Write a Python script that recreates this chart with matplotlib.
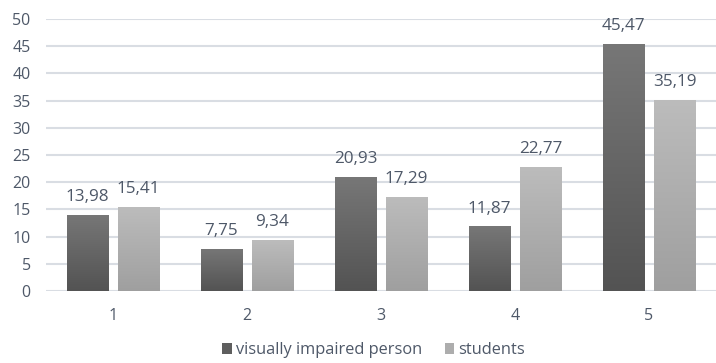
import numpy as np
import matplotlib
matplotlib.use('Agg')
import matplotlib.pyplot as plt
from matplotlib.colors import LinearSegmentedColormap

categories = ['1', '2', '3', '4', '5']
impaired = [13.98, 7.75, 20.93, 11.87, 45.47]
students = [15.41, 9.34, 17.29, 22.77, 35.19]
series_names = ['visually impaired person', 'students']

plt.rcParams['font.family'] = ['Open Sans', 'DejaVu Sans']
text_col = '#4e5868'

fig = plt.figure(figsize=(7.16, 3.63), dpi=100)
ax = fig.add_axes([46 / 716, 72 / 363, 670 / 716, 272 / 363])

x = np.arange(len(categories))
w = 0.31
off = 0.19

cm_dark = LinearSegmentedColormap.from_list('dk', ['#535353', '#777777'])
cm_light = LinearSegmentedColormap.from_list('lt', ['#9f9f9f', '#bcbcbc'])
grad = np.linspace(0, 1, 256).reshape(-1, 1)


def gradient_bars(xs, vals, cmap, solid, label):
    bars = ax.bar(xs, vals, w, color=solid, label=label, zorder=2)
    for b in bars:
        x0, y0 = b.get_x(), b.get_y()
        im = ax.imshow(grad, cmap=cmap, origin='lower', aspect='auto',
                       extent=[x0, x0 + b.get_width(), y0, y0 + b.get_height()],
                       zorder=3)
        im.set_clip_path(b)
    for xi, v in zip(xs, vals):
        ax.annotate(('%.2f' % v).replace('.', ','), (xi, v), xytext=(0, 10),
                    textcoords='offset points', ha='center', va='baseline',
                    fontsize=12.3, color=text_col, zorder=4)
    return bars


gradient_bars(x - off, impaired, cm_dark, '#5e5e5e', series_names[0])
gradient_bars(x + off, students, cm_light, '#adadad', series_names[1])

ax.set_xlim(-0.5, len(categories) - 0.5)
ax.set_ylim(0, 50)
ax.set_yticks(range(0, 51, 5))
ax.set_xticks(x)
ax.set_xticklabels(categories)
ax.yaxis.grid(True, color='#d9dde3', linewidth=1.5, zorder=0)
ax.set_axisbelow(True)
for s in ax.spines.values():
    s.set_visible(False)
ax.tick_params(length=0, labelsize=11.5, colors=text_col)
ax.tick_params(axis='y', pad=11)
ax.tick_params(axis='x', pad=12)

leg = fig.legend(loc='lower center', bbox_to_anchor=(0.522, -0.028), ncol=2, frameon=False,
                 fontsize=11.8, handlelength=0.6, handleheight=0.6, handletextpad=0.25,
                 columnspacing=1.35, labelcolor=text_col)

fig.savefig('out.png', dpi=100)
